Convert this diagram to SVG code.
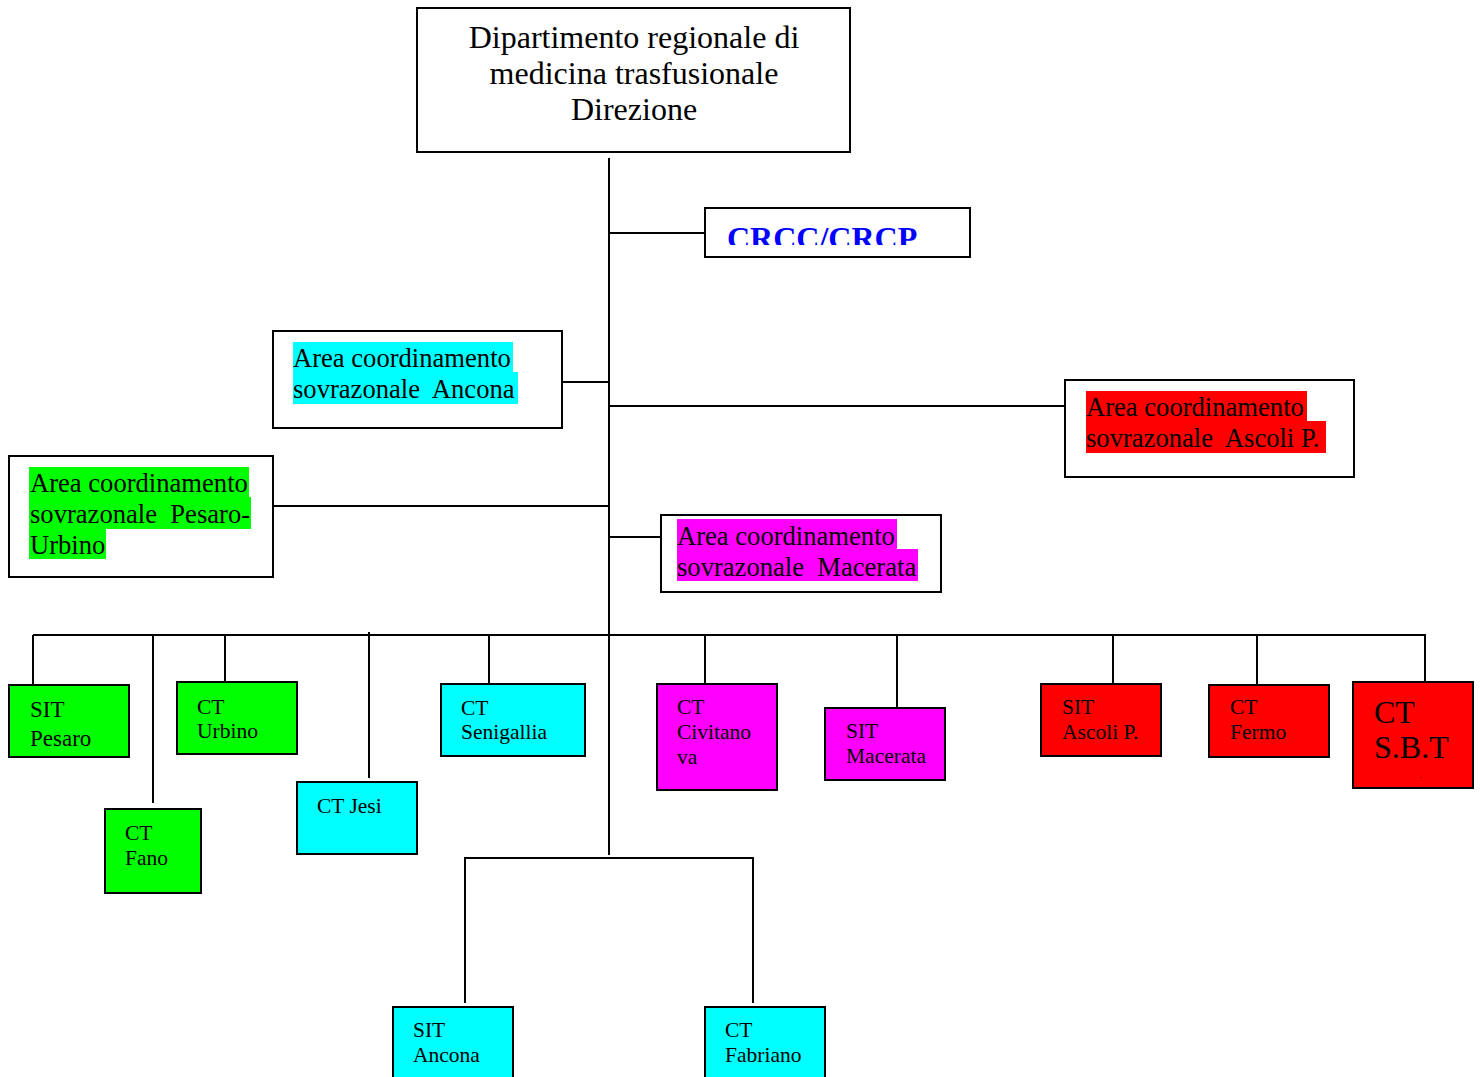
<svg xmlns="http://www.w3.org/2000/svg" width="1482" height="1077" viewBox="0 0 1482 1077">
<style>
.box{fill:#fff;stroke:#000;stroke-width:2}
.g{fill:#00ff00;stroke:#000;stroke-width:2}
.c{fill:#00ffff;stroke:#000;stroke-width:2}
.m{fill:#ff00ff;stroke:#000;stroke-width:2}
.r{fill:#ff0000;stroke:#000;stroke-width:2}
.t{font-family:"Liberation Serif","Times New Roman",serif;fill:#000;white-space:pre}
.title{font-size:32px;text-anchor:middle}
.area{font-size:26.6px}
.sm{font-size:21.5px}
.hg{fill:#00ff00}.hc{fill:#00ffff}.hm{fill:#ff00ff}.hr{fill:#ff0000}
#connectors line{stroke:#000;stroke-width:2}
</style>
<defs>
<clipPath id="crccClip"><rect x="705" y="208" width="266" height="37"/></clipPath>
</defs>
<rect width="1482" height="1077" fill="#fff"/>
<g id="connectors">
<line x1="609" y1="158" x2="609" y2="855"/>
<line x1="609" y1="233" x2="705" y2="233"/>
<line x1="562" y1="382" x2="609" y2="382"/>
<line x1="609" y1="406" x2="1065" y2="406"/>
<line x1="273" y1="506" x2="609" y2="506"/>
<line x1="609" y1="537" x2="661" y2="537"/>
<line x1="33" y1="635" x2="1426" y2="635"/>
<line x1="33" y1="635" x2="33" y2="685"/>
<line x1="153" y1="635" x2="153" y2="803"/>
<line x1="225" y1="635" x2="225" y2="682"/>
<line x1="369" y1="632" x2="369" y2="778"/>
<line x1="489" y1="635" x2="489" y2="684"/>
<line x1="705" y1="635" x2="705" y2="684"/>
<line x1="897" y1="635" x2="897" y2="708"/>
<line x1="1113" y1="635" x2="1113" y2="684"/>
<line x1="1257" y1="635" x2="1257" y2="685"/>
<line x1="1425" y1="635" x2="1425" y2="682"/>
<line x1="465" y1="858" x2="753" y2="858"/>
<line x1="465" y1="857" x2="465" y2="1003"/>
<line x1="753" y1="857" x2="753" y2="1003"/>
</g>
<g id="direzione">
<rect class="box" x="417" y="8" width="433" height="144"/>
<text class="t title" x="634" y="48">Dipartimento regionale di</text>
<text class="t title" x="634" y="84">medicina trasfusionale</text>
<text class="t title" x="634" y="120">Direzione</text>
</g>
<g id="crcc">
<rect class="box" x="705" y="208" width="265" height="49"/>
<text clip-path="url(#crccClip)" x="727" y="249" style="font-family:'Liberation Serif','Times New Roman',serif;font-size:32px;font-weight:bold;fill:#0000ff">CRCC/CRCP</text>
</g>
<g id="area-ancona">
<rect class="box" x="273" y="331" width="289" height="97"/>
<rect class="hc" x="293" y="342" width="220" height="31"/>
<rect class="hc" x="293" y="372" width="225" height="32"/>
<text class="t area" x="293" y="367">Area coordinamento</text>
<text class="t area" x="293" y="398">sovrazonale  Ancona</text>
</g>
<g id="area-ascoli">
<rect class="box" x="1065" y="380" width="289" height="97"/>
<rect class="hr" x="1086" y="391" width="221" height="31"/>
<rect class="hr" x="1086" y="421" width="240" height="32"/>
<text class="t area" x="1086" y="416">Area coordinamento</text>
<text class="t area" x="1086" y="447">sovrazonale  Ascoli P.</text>
</g>
<g id="area-pesaro">
<rect class="box" x="9" y="456" width="264" height="121"/>
<rect class="hg" x="29" y="467" width="220" height="31"/>
<rect class="hg" x="29" y="497" width="222" height="32"/>
<rect class="hg" x="29" y="528" width="77" height="31"/>
<text class="t area" x="30" y="492">Area coordinamento</text>
<text class="t area" x="30" y="523">sovrazonale  Pesaro-</text>
<text class="t area" x="30" y="554">Urbino</text>
</g>
<g id="area-macerata">
<rect class="box" x="661" y="515" width="280" height="77"/>
<rect class="hm" x="677" y="519" width="220" height="31"/>
<rect class="hm" x="677" y="549" width="241" height="32"/>
<text class="t area" x="677" y="545">Area coordinamento</text>
<text class="t area" x="677" y="576">sovrazonale  Macerata</text>
</g>
<g id="sit-pesaro">
<rect class="g" x="9" y="685" width="120" height="72"/>
<text class="t" style="font-size:23px" x="30" y="717">SIT</text>
<text class="t" style="font-size:23px" x="30" y="746">Pesaro</text>
</g>
<g id="ct-fano">
<rect class="g" x="105" y="809" width="96" height="84"/>
<text class="t sm" x="125" y="840">CT</text>
<text class="t sm" x="125" y="865">Fano</text>
</g>
<g id="ct-urbino">
<rect class="g" x="177" y="682" width="120" height="72"/>
<text class="t sm" x="197" y="714">CT</text>
<text class="t sm" x="197" y="738">Urbino</text>
</g>
<g id="ct-jesi">
<rect class="c" x="297" y="782" width="120" height="72"/>
<text class="t sm" x="317" y="813">CT Jesi</text>
</g>
<g id="ct-senigallia">
<rect class="c" x="441" y="684" width="144" height="72"/>
<text class="t sm" x="461" y="715">CT</text>
<text class="t sm" x="461" y="739">Senigallia</text>
</g>
<g id="ct-civitanova">
<rect class="m" x="657" y="684" width="120" height="106"/>
<text class="t sm" x="677" y="714">CT</text>
<text class="t sm" x="677" y="739">Civitano</text>
<text class="t sm" x="677" y="764">va</text>
</g>
<g id="sit-macerata">
<rect class="m" x="825" y="708" width="120" height="72"/>
<text class="t sm" x="846" y="738">SIT</text>
<text class="t sm" x="846" y="763">Macerata</text>
</g>
<g id="sit-ascoli">
<rect class="r" x="1041" y="684" width="120" height="72"/>
<text class="t sm" x="1062" y="714">SIT</text>
<text class="t sm" x="1062" y="739">Ascoli P.</text>
</g>
<g id="ct-fermo">
<rect class="r" x="1209" y="685" width="120" height="72"/>
<text class="t sm" x="1230" y="714">CT</text>
<text class="t sm" x="1230" y="739">Fermo</text>
</g>
<g id="ct-sbt">
<rect class="r" x="1353" y="682" width="120" height="106"/>
<text class="t" style="font-size:32px" x="1374" y="723">CT</text>
<text class="t" style="font-size:32px" x="1374" y="758">S.B.T</text>
<text class="t" style="font-size:8px" x="1420" y="778">.</text>
</g>
<g id="sit-ancona">
<rect class="c" x="393" y="1007" width="120" height="80"/>
<text class="t sm" x="413" y="1037">SIT</text>
<text class="t sm" x="413" y="1062">Ancona</text>
</g>
<g id="ct-fabriano">
<rect class="c" x="705" y="1007" width="120" height="80"/>
<text class="t sm" x="725" y="1037">CT</text>
<text class="t sm" x="725" y="1062">Fabriano</text>
</g>
</svg>
